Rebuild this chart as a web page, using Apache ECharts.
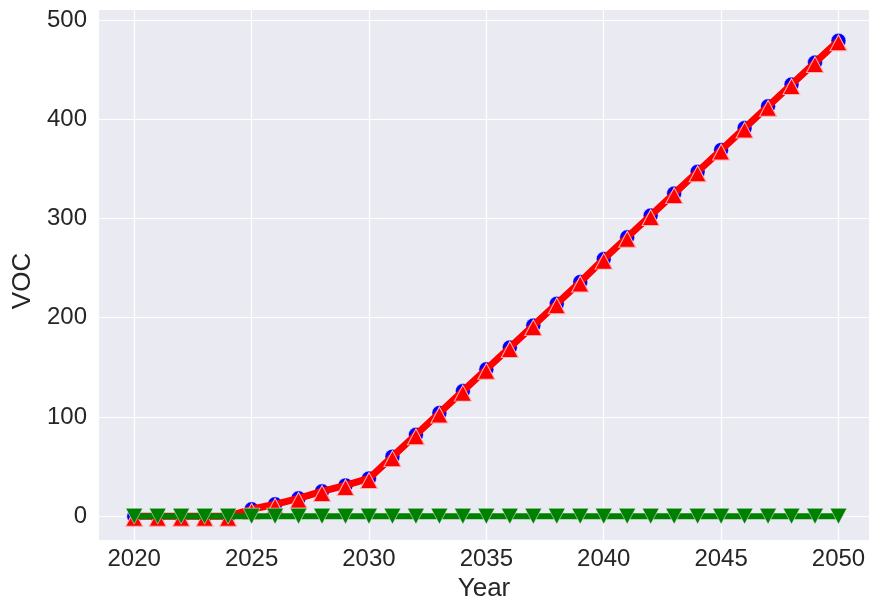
<!DOCTYPE html>
<html><head><meta charset="utf-8">
<script src="https://cdn.jsdelivr.net/npm/echarts@6/dist/echarts.min.js"></script>
<style>html,body{margin:0;padding:0;background:#fff}#c{width:871px;height:602px}</style>
</head><body><div id="c"></div>
<script>
const years = [2020,2021,2022,2023,2024,2025,2026,2027,2028,2029,2030,2031,2032,2033,2034,2035,2036,2037,2038,2039,2040,2041,2042,2043,2044,2045,2046,2047,2048,2049,2050];
const blueValues = [0,0,0,0,0,7,12,18,25,31,38,60,82,104,126,148,170,192,214,236,259,281,303,325,347,369,391,413,435,457,479];
const redValues  = [0,0,0,0,0,7,12,18,25,31,38,60,82,104,126,148,170,192,214,236,259,281,303,325,347,369,391,413,435,457,479];
const greenValues = [0,0,0,0,0,0,0,0,0,0,0,0,0,0,0,0,0,0,0,0,0,0,0,0,0,0,0,0,0,0,0];
const xTicks = [2020,2025,2030,2035,2040,2045,2050];
const yTicks = [0,100,200,300,400,500];

const pair = v => years.map((y,i)=>[y,v[i]]);
const font = 'Liberation Sans, Arial, sans-serif';
const chart = echarts.init(document.getElementById('c'));
chart.setOption({
  animation:false,
  grid:{left:99,right:2,top:10,bottom:62,outerBoundsMode:'none',containLabel:false,show:true,backgroundColor:'#EAEAF2',borderWidth:0},
  xAxis:{type:'value',min:2018.5,max:2051.3,
    name:'Year',nameLocation:'middle',nameGap:29,nameTextStyle:{fontSize:26,color:'#262626',fontFamily:font},
    axisLine:{show:false},axisTick:{show:false,customValues:xTicks},
    axisLabel:{customValues:xTicks,formatter:v=>String(v),fontSize:24,color:'#262626',fontFamily:font,margin:7},
    splitLine:{show:true,lineStyle:{color:'#fff',width:1.2}}},
  yAxis:{type:'value',min:-24,max:510,
    name:'VOC',nameLocation:'middle',nameGap:62,nameTextStyle:{fontSize:26,color:'#262626',fontFamily:font,padding:[0,12,0,0]},
    axisLine:{show:false},axisTick:{show:false,customValues:yTicks},
    axisLabel:{customValues:yTicks,formatter:v=>String(v),fontSize:24,color:'#262626',fontFamily:font,margin:12},
    splitLine:{show:true,lineStyle:{color:'#fff',width:1.2}}},
  series:[
    {type:'line',data:pair(blueValues),symbol:'circle',symbolSize:15,
     lineStyle:{color:'#0000ff',width:5},itemStyle:{color:'#0000ff',borderColor:'#fff',borderWidth:0.5},z:2},
    {type:'line',data:pair(redValues),symbol:'triangle',symbolSize:[17,16],symbolOffset:[0,2],
     lineStyle:{color:'#ff0000',width:7},itemStyle:{color:'#ff0000',borderColor:'#ffb0b0',borderWidth:1},z:3},
    {type:'line',data:pair(greenValues),symbol:'triangle',symbolRotate:180,symbolSize:[17,16],
     lineStyle:{color:'#008000',width:6},itemStyle:{color:'#008000',borderColor:'#ffffff',borderWidth:0.5},z:4}
  ]
});
</script></body></html>
